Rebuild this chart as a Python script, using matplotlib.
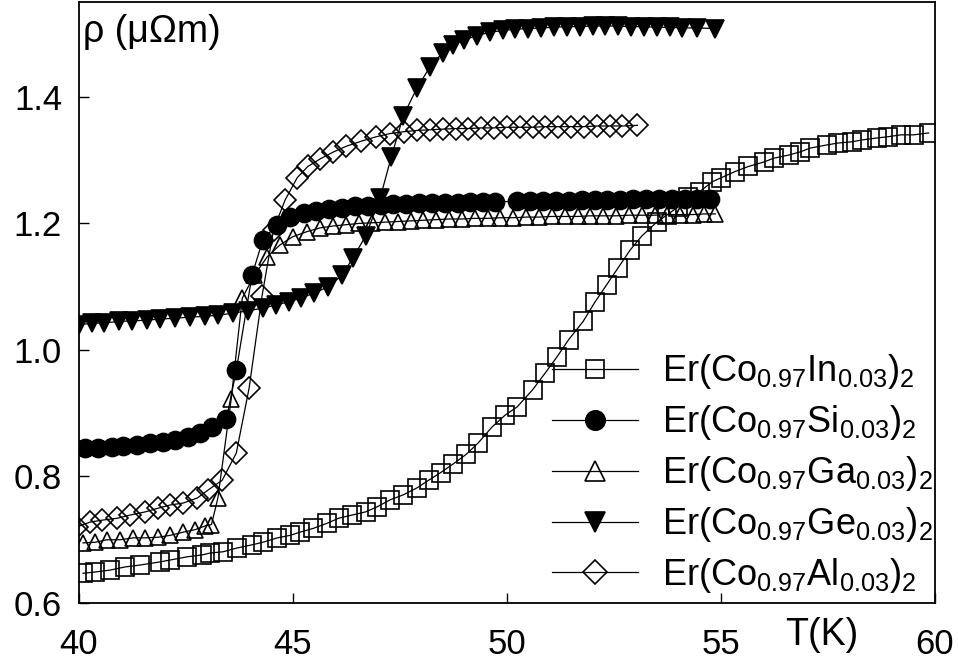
import matplotlib
matplotlib.use("Agg")
import matplotlib.pyplot as plt
from matplotlib.lines import Line2D

plt.rcParams['font.family'] = ['Liberation Sans', 'DejaVu Sans']
plt.rcParams['mathtext.fontset'] = 'custom'
plt.rcParams['mathtext.rm'] = 'Liberation Sans'
plt.rcParams['mathtext.it'] = 'Liberation Sans:italic'
plt.rcParams['mathtext.default'] = 'regular'

# ---- data: resistivity (μΩm) vs temperature (K) ----
T_in = [40.1, 40.38, 40.73, 41.08, 41.43, 41.9, 42.14, 42.53, 42.88, 43.07, 43.37, 43.7,
        44.05, 44.3, 44.64, 44.94, 45.17, 45.48, 45.8, 46.07, 46.38, 46.7, 46.97, 47.27,
        47.58, 47.9, 48.17, 48.45, 48.75, 49.05, 49.33, 49.65, 49.96, 50.24, 50.6, 50.9,
        51.17, 51.44, 51.78, 52.06, 52.33, 52.6, 52.88, 53.15, 53.5, 53.75, 54.0, 54.24,
        54.5, 54.8, 55.0, 55.33, 55.64, 56.0, 56.23, 56.58, 56.85, 57.08, 57.47, 57.73,
        58.06, 58.3, 58.64, 58.9, 59.2, 59.5, 59.85]
rho_in = [0.647, 0.649, 0.652, 0.657, 0.660, 0.665, 0.668, 0.673, 0.676, 0.679, 0.681, 0.687,
          0.692, 0.696, 0.703, 0.707, 0.712, 0.718, 0.726, 0.734, 0.739, 0.744, 0.752, 0.763,
          0.771, 0.782, 0.794, 0.806, 0.820, 0.835, 0.853, 0.878, 0.897, 0.910, 0.937, 0.964,
          0.989, 1.016, 1.045, 1.076, 1.103, 1.130, 1.158, 1.180, 1.202, 1.214, 1.226, 1.242,
          1.250, 1.266, 1.272, 1.282, 1.290, 1.297, 1.303, 1.308, 1.313, 1.319, 1.324, 1.327,
          1.329, 1.332, 1.335, 1.337, 1.340, 1.340, 1.343]

T_si = [40.15, 40.45, 40.77, 41.04, 41.36, 41.67, 41.97, 42.25, 42.56, 42.84, 43.12, 43.45,
        43.68, 44.05, 44.3, 44.63, 44.93, 45.25, 45.55, 45.85, 46.15, 46.45, 46.75, 47.05,
        47.35, 47.65, 47.95, 48.25, 48.55, 48.85, 49.15, 49.45, 49.73, 50.24, 50.55, 50.85,
        51.15, 51.45, 51.75, 52.05, 52.35, 52.65, 52.95, 53.25, 53.55, 53.85, 54.15, 54.45,
        54.75]
rho_si = [0.845, 0.845, 0.847, 0.848, 0.850, 0.853, 0.855, 0.858, 0.862, 0.869, 0.878, 0.891,
          0.968, 1.119, 1.174, 1.198, 1.210, 1.216, 1.220, 1.223, 1.225, 1.227, 1.228, 1.229,
          1.230, 1.231, 1.232, 1.232, 1.233, 1.233, 1.234, 1.234, 1.234, 1.235, 1.235, 1.236,
          1.236, 1.236, 1.237, 1.237, 1.237, 1.237, 1.238, 1.238, 1.238, 1.238, 1.238, 1.238,
          1.238]

T_ga = [40.1, 40.38, 40.66, 40.97, 41.27, 41.55, 41.86, 42.14, 42.44, 42.72, 42.96, 43.1,
        43.25, 43.56, 43.82, 44.1, 44.4, 44.7, 45.0, 45.33, 45.64, 45.95, 46.25, 46.55,
        46.85, 47.15, 47.45, 47.75, 48.05, 48.35, 48.65, 48.95, 49.25, 49.55, 49.85, 50.15,
        50.45, 50.75, 51.05, 51.35, 51.65, 51.95, 52.25, 52.55, 52.85, 53.15, 53.45, 53.75,
        54.05, 54.35, 54.6, 54.87]
rho_ga = [0.695, 0.696, 0.700, 0.700, 0.703, 0.703, 0.704, 0.707, 0.712, 0.716, 0.722, 0.724,
          0.766, 0.922, 1.082, 1.118, 1.147, 1.166, 1.179, 1.187, 1.193, 1.196, 1.198, 1.200,
          1.201, 1.202, 1.203, 1.204, 1.205, 1.206, 1.207, 1.207, 1.208, 1.208, 1.209, 1.209,
          1.210, 1.210, 1.211, 1.211, 1.211, 1.212, 1.212, 1.212, 1.213, 1.213, 1.213, 1.214,
          1.214, 1.214, 1.215, 1.215]

T_ge = [40.0, 40.3, 40.6, 40.95, 41.25, 41.6, 41.9, 42.25, 42.6, 42.95, 43.25, 43.6,
        43.95, 44.3, 44.6, 44.9, 45.2, 45.5, 45.83, 46.15, 46.4, 46.7, 47.04, 47.3,
        47.58, 47.9, 48.2, 48.5, 48.75, 49.0, 49.3, 49.6, 49.9, 50.2, 50.5, 50.8,
        51.1, 51.4, 51.7, 52.0, 52.3, 52.6, 52.9, 53.2, 53.5, 53.8, 54.1, 54.45, 54.85]
rho_ge = [1.040, 1.042, 1.043, 1.045, 1.046, 1.047, 1.049, 1.050, 1.052, 1.053, 1.055, 1.058,
          1.062, 1.066, 1.071, 1.076, 1.082, 1.090, 1.100, 1.118, 1.145, 1.180, 1.240, 1.305,
          1.370, 1.414, 1.447, 1.470, 1.482, 1.490, 1.497, 1.502, 1.505, 1.507, 1.508, 1.509,
          1.510, 1.511, 1.511, 1.512, 1.512, 1.512, 1.511, 1.511, 1.510, 1.510, 1.509, 1.509,
          1.508]

T_al = [39.95, 40.27, 40.55, 40.9, 41.2, 41.55, 41.86, 42.14, 42.44, 42.77, 43.03, 43.35,
        43.68, 43.98, 44.28, 44.55, 44.82, 45.1, 45.35, 45.64, 45.95, 46.25, 46.6, 46.95,
        47.27, 47.6, 47.9, 48.2, 48.5, 48.8, 49.1, 49.4, 49.7, 50.0, 50.3, 50.6,
        50.9, 51.2, 51.5, 51.8, 52.1, 52.4, 52.7, 53.05]
rho_al = [0.720, 0.728, 0.731, 0.734, 0.739, 0.744, 0.750, 0.755, 0.758, 0.766, 0.779, 0.794,
          0.837, 0.940, 1.085, 1.190, 1.237, 1.272, 1.290, 1.302, 1.313, 1.322, 1.330, 1.337,
          1.342, 1.345, 1.347, 1.348, 1.349, 1.350, 1.350, 1.351, 1.351, 1.352, 1.352, 1.352,
          1.353, 1.353, 1.353, 1.353, 1.354, 1.354, 1.354, 1.355]

labels = [r'Er(Co$_{0.97}$In$_{0.03}$)$_2$',
          r'Er(Co$_{0.97}$Si$_{0.03}$)$_2$',
          r'Er(Co$_{0.97}$Ga$_{0.03}$)$_2$',
          r'Er(Co$_{0.97}$Ge$_{0.03}$)$_2$',
          r'Er(Co$_{0.97}$Al$_{0.03}$)$_2$']
x_ticks = [40, 45, 50, 55, 60]
y_ticks = [0.6, 0.8, 1.0, 1.2, 1.4]

fig = plt.figure(figsize=(9.58, 6.62), dpi=100)
ax = fig.add_axes([0.0822, 0.0891, 0.8938, 0.9079])

common = dict(color='black', lw=0.9, mec='black', mew=1.2)
ax.plot(T_in, rho_in, marker='s', ms=12.5, mfc='none', **common)
ax.plot(T_ga, rho_ga, marker='^', ms=11.5, mfc='none', **common)
ax.plot(T_al, rho_al, marker='D', ms=11, mfc='none', **common)
ax.plot(T_si, rho_si, marker='o', ms=13, mfc='black', **common)
ax.plot(T_ge, rho_ge, marker='v', ms=12.5, mfc='black', **common)

# legend keys drawn slightly larger than the data markers
keys = [Line2D([], [], marker='s', ms=13, mfc='none', **common),
        Line2D([], [], marker='o', ms=14, mfc='black', **common),
        Line2D([], [], marker='^', ms=14.5, mfc='none', **common),
        Line2D([], [], marker='v', ms=14, mfc='black', **common),
        Line2D([], [], marker='D', ms=12, mfc='none', **common)]

ax.set_xlim(40, 60)
ax.set_ylim(0.6, 1.55)
ax.set_xticks(x_ticks)
ax.set_xticklabels([str(t) for t in x_ticks])
ax.set_yticks(y_ticks)
ax.set_yticklabels([f'{t:.1f}' for t in y_ticks])
ax.tick_params(direction='in', length=7, width=1, labelsize=25, top=False, right=False)
ax.tick_params(axis='x', pad=18)
ax.tick_params(axis='y', pad=12)
for s in ax.spines.values():
    s.set_linewidth(1.3)

ax.text(0.005, 0.933, 'ρ (μΩm)', transform=ax.transAxes, fontsize=27,
        ha='left', va='baseline')
ax.text(0.825, -0.07, 'T(K)', transform=ax.transAxes, fontsize=27,
        ha='left', va='baseline', clip_on=False)

ax.legend(keys, labels, loc='center left',
          bbox_to_anchor=(0.553, 0.215), frameon=False, fontsize=26,
          handlelength=2.38, handletextpad=0.66, labelspacing=0.33,
          borderpad=0, borderaxespad=0)

fig.savefig('out.png', dpi=100)
